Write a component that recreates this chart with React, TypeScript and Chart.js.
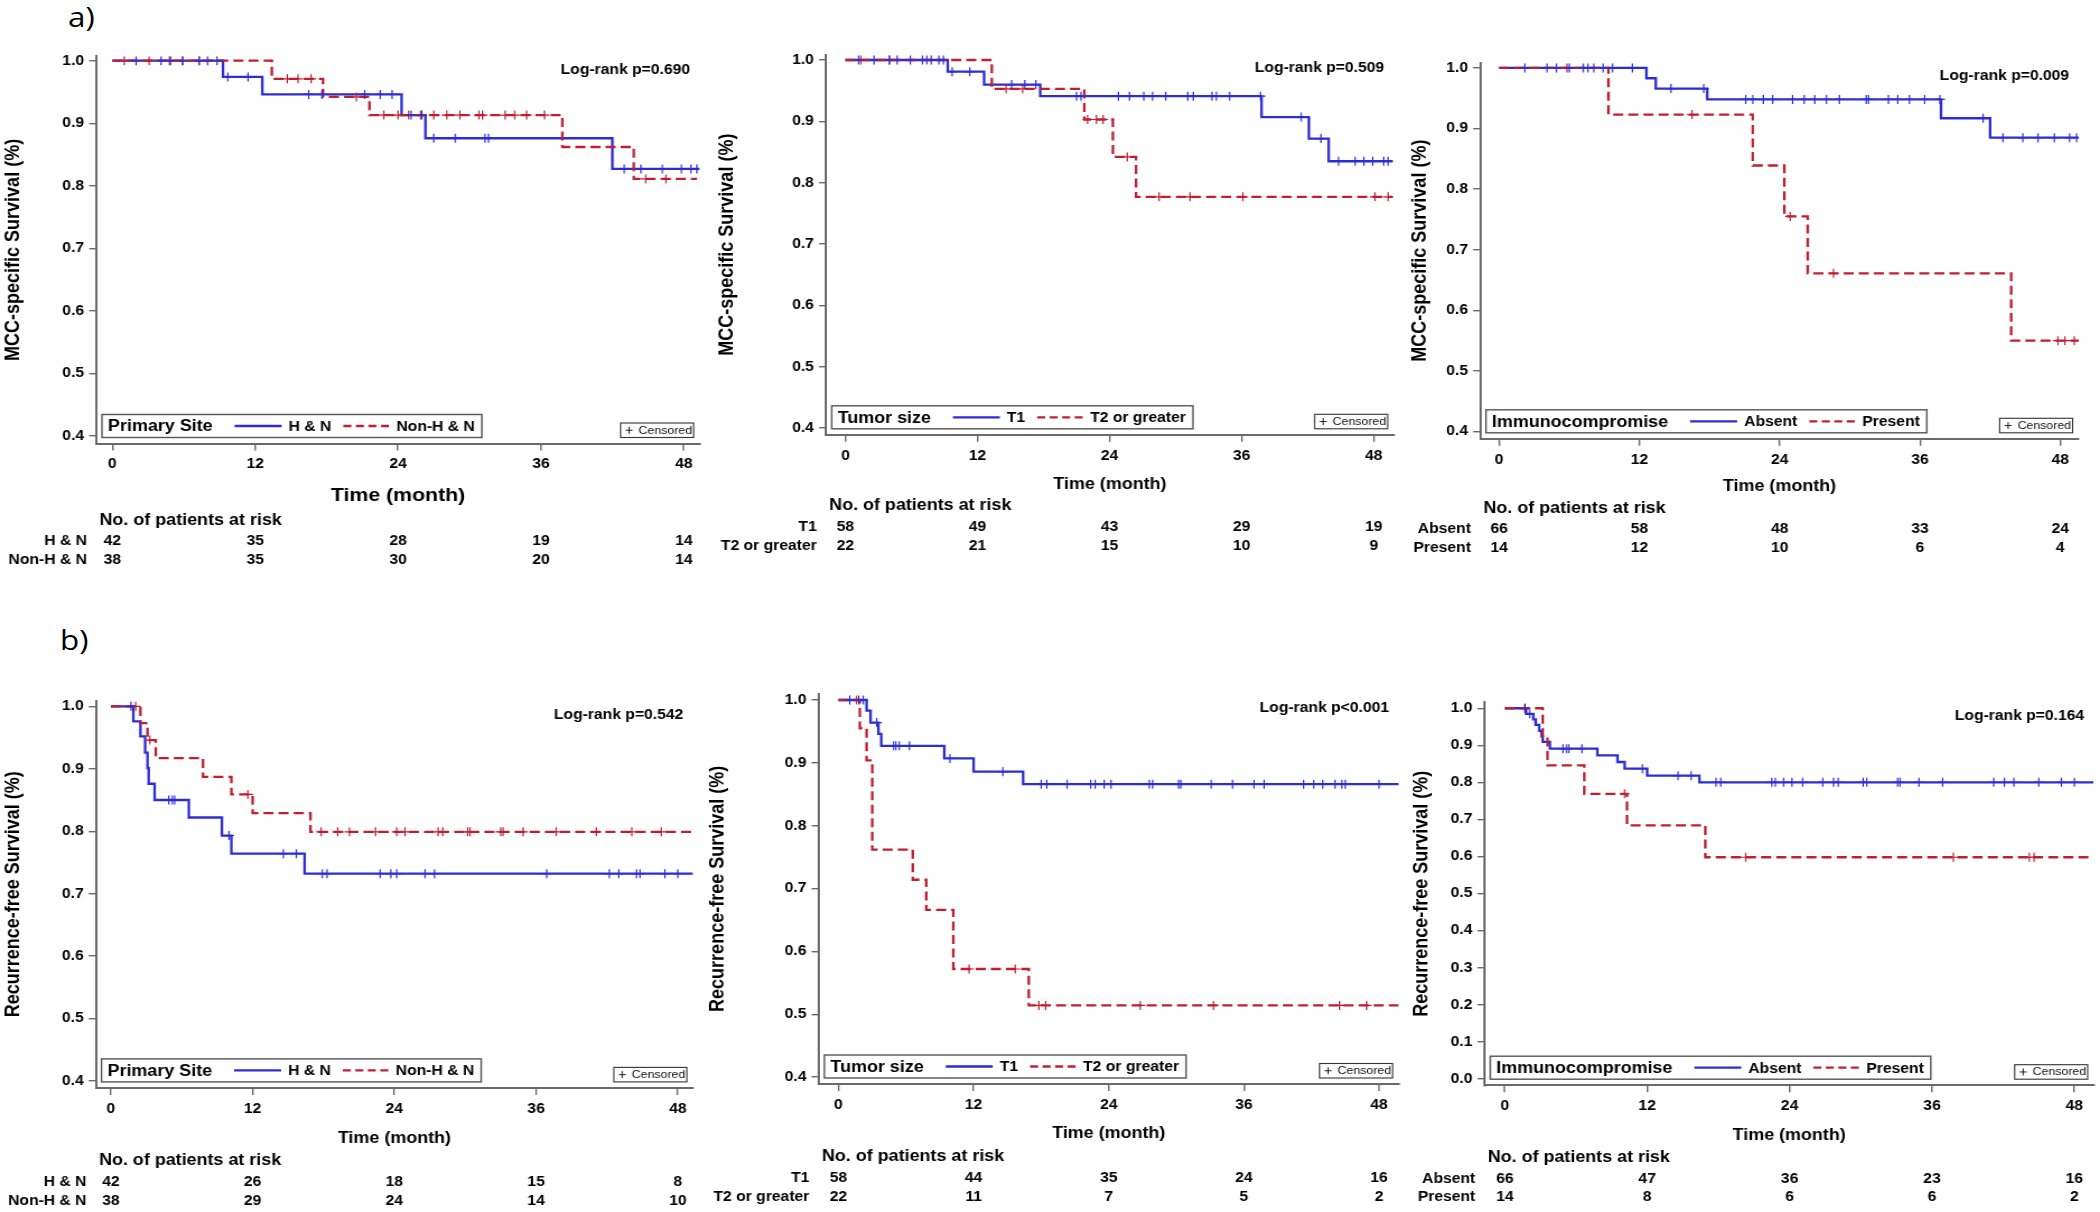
import React, { useEffect, useRef } from 'react';
import { Chart, registerables } from 'chart.js';

Chart.register(...registerables);

const FONT = '"Liberation Sans", Arial, Helvetica, sans-serif';
const BLUE = '#2d2dd6';
const RED = '#c01f30';
const AXIS = '#6a6a6a';
// the reference is slightly wider than tall in its text: draw on a canvas stretched horizontally
const KX = 1.12;

// ---------- tick labels ----------
const timeTicks = [0, 12, 24, 36, 48];
const survTicks = [0.4, 0.5, 0.6, 0.7, 0.8, 0.9, 1.0];
const survTicksFull = [0, 0.1, 0.2, 0.3, 0.4, 0.5, 0.6, 0.7, 0.8, 0.9, 1.0];

// ---------- a) MCC-specific survival: Primary site ----------
const a1HNTimes = [0, 9.3, 12.6, 24.3, 26.3, 42.0, 49.3];
const a1HNSurv = [1, 0.974, 0.946, 0.913, 0.876, 0.827, 0.827];
const a1HNCens = [2.0, 4.1, 4.8, 5.9, 7.3, 8.0, 8.8, 9.7, 11.4, 16.5, 17.6, 21.2, 22.5, 23.5, 25.1, 26.0, 27.0, 28.8, 31.3, 31.6, 43.0, 44.4, 46.2, 47.8, 48.6, 49.1];
const a1NonTimes = [0, 13.4, 17.7, 21.6, 37.8, 43.8, 49.1];
const a1NonSurv = [1, 0.971, 0.942, 0.913, 0.862, 0.811, 0.811];
const a1NonCens = [1.0, 3.1, 4.9, 5.9, 7.3, 14.7, 15.6, 16.7, 20.5, 22.8, 24.0, 24.9, 25.9, 27.0, 28.1, 29.2, 30.8, 31.1, 33.0, 33.8, 34.8, 36.3, 44.8, 46.5];
const a1HNRisk = [42, 35, 28, 19, 14];
const a1NonRisk = [38, 35, 30, 20, 14];

// ---------- a) MCC-specific survival: Tumor size ----------
const a2T1Times = [0, 9.3, 12.6, 17.7, 37.8, 42.1, 43.9, 49.7];
const a2T1Surv = [1, 0.981, 0.96, 0.941, 0.907, 0.872, 0.835, 0.835];
const a2T1Cens = [1.2, 2.6, 4.0, 4.7, 5.9, 7.0, 7.4, 7.8, 8.5, 8.9, 9.7, 11.3, 15.1, 16.3, 17.3, 21.0, 21.4, 24.8, 25.8, 27.1, 27.9, 29.1, 31.1, 31.6, 33.3, 33.7, 34.9, 37.7, 41.4, 43.2, 44.8, 46.3, 47.1, 47.9, 48.9, 49.3];
const a2T2Times = [0, 13.3, 21.7, 24.3, 26.4, 49.7];
const a2T2Surv = [1, 0.953, 0.903, 0.842, 0.777, 0.777];
const a2T2Cens = [1.4, 4.0, 14.6, 16.1, 22.0, 22.8, 23.4, 25.6, 28.5, 31.3, 36.1, 48.1, 49.3];
const a2T1Risk = [58, 49, 43, 29, 19];
const a2T2Risk = [22, 21, 15, 10, 9];

// ---------- a) MCC-specific survival: Immunocompromise ----------
const a3AbsTimes = [0, 12.6, 13.4, 17.8, 37.8, 42.0, 49.6];
const a3AbsSurv = [1, 0.983, 0.966, 0.948, 0.917, 0.885, 0.885];
const a3AbsCens = [2.2, 4.1, 4.9, 6.0, 7.2, 7.6, 8.1, 8.9, 9.7, 11.4, 14.7, 17.5, 21.1, 21.7, 22.6, 23.4, 25.1, 26.1, 27.0, 28.0, 29.1, 31.4, 31.6, 33.3, 34.1, 35.1, 36.4, 37.7, 41.4, 43.1, 44.8, 46.1, 47.5, 48.8, 49.4];
const a3PreTimes = [0, 9.35, 21.7, 24.4, 26.4, 43.8, 49.6];
const a3PreSurv = [1, 0.923, 0.839, 0.755, 0.661, 0.55, 0.55];
const a3PreCens = [5.8, 16.5, 24.9, 28.6, 47.8, 48.4, 49.2];
const a3AbsRisk = [66, 58, 48, 33, 24];
const a3PreRisk = [14, 12, 10, 6, 4];

// ---------- b) Recurrence-free survival: Primary site ----------
const b1HNTimes = [0, 1.9, 2.5, 2.9, 3.1, 3.2, 3.7, 6.6, 9.4, 10.2, 16.4, 49.3];
const b1HNSurv = [1, 0.976, 0.952, 0.926, 0.901, 0.876, 0.85, 0.822, 0.793, 0.764, 0.732, 0.732];
const b1HNCens = [1.7, 4.9, 5.2, 5.4, 10.0, 14.6, 15.7, 17.9, 18.3, 22.8, 23.7, 24.2, 26.6, 27.4, 36.9, 42.2, 43.0, 44.5, 44.8, 46.9, 48.0];
const b1NonTimes = [0, 2.5, 3.1, 3.8, 7.8, 10.2, 12.0, 16.9, 49.3];
const b1NonSurv = [1, 0.973, 0.946, 0.917, 0.887, 0.859, 0.829, 0.799, 0.799];
const b1NonCens = [2.1, 3.3, 11.6, 17.8, 19.2, 20.2, 22.4, 24.2, 24.9, 27.7, 28.1, 30.2, 30.4, 33.0, 33.2, 34.9, 37.7, 41.1, 44.1, 46.6];
const b1HNRisk = [42, 26, 18, 15, 8];
const b1NonRisk = [38, 29, 24, 14, 10];

// ---------- b) Recurrence-free survival: Tumor size ----------
const b2T1Times = [0, 2.5, 2.85, 3.55, 3.8, 9.4, 12.0, 16.4, 49.8];
const b2T1Surv = [1, 0.983, 0.964, 0.946, 0.927, 0.907, 0.886, 0.866, 0.866];
const b2T1Cens = [1.0, 1.8, 2.2, 3.4, 4.9, 5.1, 5.4, 6.3, 9.9, 14.6, 18.0, 18.5, 20.3, 22.4, 22.8, 23.6, 24.2, 27.6, 27.9, 30.2, 30.4, 33.1, 35.0, 36.9, 37.8, 41.3, 42.2, 43.0, 44.1, 44.7, 45.0, 48.0];
const b2T2Times = [0, 1.9, 2.5, 3.0, 6.6, 7.8, 10.2, 16.9, 49.8];
const b2T2Surv = [1, 0.955, 0.904, 0.762, 0.714, 0.666, 0.572, 0.514, 0.514];
const b2T2Cens = [1.6, 11.6, 15.7, 17.8, 18.4, 26.8, 33.3, 44.5, 46.9];
const b2T1Risk = [58, 44, 35, 24, 16];
const b2T2Risk = [22, 11, 7, 5, 2];

// ---------- b) Recurrence-free survival: Immunocompromise ----------
const b3AbsTimes = [0, 1.8, 2.4, 2.6, 2.9, 3.1, 3.2, 3.8, 7.8, 9.5, 10.1, 12.0, 16.4, 49.6];
const b3AbsSurv = [1, 0.985, 0.97, 0.955, 0.939, 0.924, 0.909, 0.891, 0.873, 0.855, 0.837, 0.818, 0.8, 0.8];
const b3AbsCens = [1.7, 2.1, 4.9, 5.2, 5.4, 6.5, 11.6, 14.6, 15.7, 17.8, 18.2, 22.5, 22.8, 23.5, 24.2, 25.1, 26.8, 27.7, 28.1, 30.2, 30.5, 33.1, 33.3, 34.9, 36.9, 41.2, 42.1, 42.9, 45.0, 46.9, 48.0];
const b3PreTimes = [0, 3.2, 3.6, 6.7, 10.3, 16.9, 49.6];
const b3PreSurv = [1, 0.923, 0.846, 0.769, 0.684, 0.598, 0.598];
const b3PreCens = [1.7, 10.1, 20.3, 37.8, 44.2, 44.6];
const b3AbsRisk = [66, 47, 36, 23, 16];
const b3PreRisk = [14, 8, 6, 6, 2];

// ---------- types ----------
type Group = {
  label: string;
  times: number[];
  surv: number[];
  cens: number[];
  risk: number[];
  color: string;
  dashed: boolean;
};

type Panel = {
  key: string;
  cx: number; cy: number; cw: number; ch: number;
  L: number; R: number; T: number; B: number;
  xmin: number; xmax: number; ymin: number; ymax: number;
  yTicks: number[];
  yTitle: string; yTitleX: number;
  xTitleY: number; xTitleSize: number;
  hdr: number; r1: number; r2: number;
  legendTitle: string;
  logrank: string;
  groups: Group[];
};

const g = (label: string, times: number[], surv: number[], cens: number[], risk: number[], color: string, dashed: boolean): Group =>
  ({ label, times, surv, cens, risk, color, dashed });

const MCC = 'MCC-specific Survival (%)';
const RFS = 'Recurrence-free Survival (%)';

const panels: Panel[] = [
  {
    key: 'a1', cx: 0, cy: 30, cw: 706, ch: 545,
    L: 96.4, R: 701.8, T: 56.3, B: 443.5,
    xmin: -1.33, xmax: 49.33, ymin: 0.388, ymax: 1.007, yTicks: survTicks,
    yTitle: MCC, yTitleX: 13.6, xTitleY: 496, xTitleSize: 19,
    hdr: 77, r1: 98.1, r2: 116.3,
    legendTitle: 'Primary Site', logrank: 'Log-rank p=0.690',
    groups: [
      g('H & N', a1HNTimes, a1HNSurv, a1HNCens, a1HNRisk, BLUE, false),
      g('Non-H & N', a1NonTimes, a1NonSurv, a1NonCens, a1NonRisk, RED, true),
    ],
  },
  {
    key: 'a2', cx: 706, cy: 30, cw: 694, ch: 545,
    L: 826.3, R: 1395.5, T: 54.5, B: 434.8,
    xmin: -1.74, xmax: 49.8, ymin: 0.389, ymax: 1.009, yTicks: survTicks,
    yTitle: MCC, yTitleX: 726.8, xTitleY: 485, xTitleSize: 16,
    hdr: 71.2, r1: 92.2, r2: 111.2,
    legendTitle: 'Tumor size', logrank: 'Log-rank p=0.509',
    groups: [
      g('T1', a2T1Times, a2T1Surv, a2T1Cens, a2T1Risk, BLUE, false),
      g('T2 or greater', a2T2Times, a2T2Surv, a2T2Cens, a2T2Risk, RED, true),
    ],
  },
  {
    key: 'a3', cx: 1400, cy: 30, cw: 700, ch: 545,
    L: 1480.4, R: 2078.6, T: 62.5, B: 438.8,
    xmin: -1.6, xmax: 49.57, ymin: 0.388, ymax: 1.009, yTicks: survTicks,
    yTitle: MCC, yTitleX: 1420, xTitleY: 487, xTitleSize: 16,
    hdr: 70.2, r1: 90.8, r2: 109,
    legendTitle: 'Immunocompromise', logrank: 'Log-rank p=0.009',
    groups: [
      g('Absent', a3AbsTimes, a3AbsSurv, a3AbsCens, a3AbsRisk, BLUE, false),
      g('Present', a3PreTimes, a3PreSurv, a3PreCens, a3PreRisk, RED, true),
    ],
  },
  {
    key: 'b1', cx: 0, cy: 660, cw: 700, ch: 552,
    L: 96, R: 692.8, T: 700.7, B: 1087.9,
    xmin: -1.26, xmax: 49.27, ymin: 0.389, ymax: 1.009, yTicks: survTicks,
    yTitle: RFS, yTitleX: 13.6, xTitleY: 1138.6, xTitleSize: 16,
    hdr: 73, r1: 94.5, r2: 113.1,
    legendTitle: 'Primary Site', logrank: 'Log-rank p=0.542',
    groups: [
      g('H & N', b1HNTimes, b1HNSurv, b1HNCens, b1HNRisk, BLUE, false),
      g('Non-H & N', b1NonTimes, b1NonSurv, b1NonCens, b1NonRisk, RED, true),
    ],
  },
  {
    key: 'b2', cx: 700, cy: 660, cw: 705, ch: 552,
    L: 818.75, R: 1401, T: 693.7, B: 1084,
    xmin: -1.74, xmax: 49.74, ymin: 0.389, ymax: 1.01, yTicks: survTicks,
    yTitle: RFS, yTitleX: 717.9, xTitleY: 1134, xTitleSize: 16,
    hdr: 72.2, r1: 94.5, r2: 113.2,
    legendTitle: 'Tumor size', logrank: 'Log-rank p<0.001',
    groups: [
      g('T1', b2T1Times, b2T1Surv, b2T1Cens, b2T1Risk, BLUE, false),
      g('T2 or greater', b2T2Times, b2T2Surv, b2T2Cens, b2T2Risk, RED, true),
    ],
  },
  {
    key: 'b3', cx: 1405, cy: 660, cw: 695, ch: 552,
    L: 1484.8, R: 2096.4, T: 702.3, B: 1085.2,
    xmin: -1.69, xmax: 49.62, ymin: -0.017, ymax: 1.016, yTicks: survTicksFull,
    yTitle: RFS, yTitleX: 1422.3, xTitleY: 1135.5, xTitleSize: 16,
    hdr: 72.2, r1: 93.6, r2: 112,
    legendTitle: 'Immunocompromise', logrank: 'Log-rank p=0.164',
    groups: [
      g('Absent', b3AbsTimes, b3AbsSurv, b3AbsCens, b3AbsRisk, BLUE, false),
      g('Present', b3PreTimes, b3PreSurv, b3PreCens, b3PreRisk, RED, true),
    ],
  },
];

// survival value of a step curve at time t (value at last event time <= t)
function survAt(times: number[], surv: number[], t: number): number {
  let s = surv[0];
  for (let i = 0; i < times.length; i++) if (times[i] <= t) s = surv[i];
  return s;
}

const h = (v: number) => v / KX; // horizontal distance in internal canvas units

function KMChart({ p }: { p: Panel }) {
  const ref = useRef<HTMLCanvasElement | null>(null);
  const innerW = Math.round(p.cw / KX);

  useEffect(() => {
    const canvas = ref.current;
    if (!canvas) return;

    const datasets: any[] = [];
    p.groups.forEach((gr) => {
      datasets.push({
        data: gr.times.map((t, i) => ({ x: t, y: gr.surv[i] })),
        borderColor: gr.color,
        borderWidth: 2.3,
        borderDash: gr.dashed ? [9, 4.5] : [],
        stepped: true,
        pointRadius: 0,
        fill: false,
        order: gr.dashed ? 1 : 2,
      });
      datasets.push({
        data: gr.cens.map((t) => ({ x: t, y: survAt(gr.times, gr.surv, t) })),
        showLine: false,
        pointStyle: 'cross',
        pointRadius: 4.5,
        pointBorderColor: gr.color,
        pointBackgroundColor: gr.color,
        pointBorderWidth: 1.2,
        borderColor: gr.color,
        order: 0,
      });
    });

    const yTitleSize = 18;
    const yLh = yTitleSize * 1.2;
    const xLh = p.xTitleSize * 1.2;
    const Hx = p.xTitleY - p.B + xLh / 2;
    const yW = h(p.L - p.cx);

    const extras = {
      id: 'kmExtras' + p.key,
      afterDraw(chart: any) {
        const ctx = chart.ctx as CanvasRenderingContext2D;
        const ca = chart.chartArea;
        const xs = chart.scales.x;
        ctx.save();

        // Log-rank text
        ctx.font = `bold 14px ${FONT}`;
        ctx.fillStyle = '#000';
        ctx.textAlign = 'right';
        ctx.textBaseline = 'middle';
        ctx.fillText(p.logrank, ca.right - h(9.5), ca.top + 14);

        // legend box
        const boxH = 23;
        const boxBottom = ca.bottom - 6;
        const boxTop = boxBottom - boxH;
        const midY = boxTop + boxH / 2;
        const boxLeft = ca.left + h(5.5);
        ctx.font = `bold 16px ${FONT}`;
        const tW = ctx.measureText(p.legendTitle).width;
        ctx.font = `bold 14px ${FONT}`;
        const l1W = ctx.measureText(p.groups[0].label).width;
        const l2W = ctx.measureText(p.groups[1].label).width;
        const boxW = h(6) + tW + h(22) + h(47) + h(7) + l1W + h(12) + h(46) + h(7) + l2W + h(7);
        ctx.fillStyle = '#fff';
        ctx.fillRect(boxLeft, boxTop, boxW, boxH);
        ctx.strokeStyle = '#555';
        ctx.lineWidth = 1.4;
        ctx.strokeRect(boxLeft, boxTop, boxW, boxH);
        let x = boxLeft + h(6);
        ctx.fillStyle = '#000';
        ctx.textAlign = 'left';
        ctx.font = `bold 16px ${FONT}`;
        ctx.fillText(p.legendTitle, x, midY + 1);
        x += tW + h(22);
        ctx.font = `bold 14px ${FONT}`;
        const drawSample = (gr: Group, sx: number, w: number) => {
          ctx.beginPath();
          ctx.strokeStyle = gr.color;
          ctx.lineWidth = 2.3;
          ctx.setLineDash(gr.dashed ? [h(8), h(4.5)] : []);
          ctx.moveTo(sx, midY);
          ctx.lineTo(sx + w, midY);
          ctx.stroke();
          ctx.setLineDash([]);
        };
        drawSample(p.groups[0], x, h(47));
        x += h(47) + h(7);
        ctx.fillText(p.groups[0].label, x, midY + 1);
        x += l1W + h(12);
        drawSample(p.groups[1], x, h(46));
        x += h(46) + h(7);
        ctx.fillText(p.groups[1].label, x, midY + 1);

        // Censored box
        const cW = h(73), cH = 14.5;
        const cRight = ca.right - h(6);
        const cBottom = ca.bottom - 6;
        const cLeft = cRight - cW;
        const cTop = cBottom - cH;
        ctx.fillStyle = '#fff';
        ctx.fillRect(cLeft, cTop, cW, cH);
        ctx.strokeStyle = '#333';
        ctx.lineWidth = 1.1;
        ctx.strokeRect(cLeft, cTop, cW, cH);
        const cm = cTop + cH / 2;
        ctx.beginPath();
        ctx.strokeStyle = '#222';
        ctx.lineWidth = 1;
        ctx.moveTo(cLeft + h(5), cm);
        ctx.lineTo(cLeft + h(12), cm);
        ctx.moveTo(cLeft + h(8.5), cm - 3.5);
        ctx.lineTo(cLeft + h(8.5), cm + 3.5);
        ctx.stroke();
        ctx.fillStyle = '#111';
        ctx.font = `11px ${FONT}`;
        ctx.textAlign = 'left';
        ctx.fillText('Censored', cLeft + h(18), cm + 0.5);

        // risk table
        ctx.fillStyle = '#000';
        ctx.font = `bold 16px ${FONT}`;
        ctx.textAlign = 'left';
        ctx.fillText('No. of patients at risk', ca.left + h(3), ca.bottom + p.hdr);
        ctx.font = `bold 14px ${FONT}`;
        const rowYs = [ca.bottom + p.r1, ca.bottom + p.r2];
        p.groups.forEach((gr, gi) => {
          ctx.textAlign = 'right';
          ctx.fillText(gr.label, ca.left - h(9.5), rowYs[gi]);
          ctx.textAlign = 'center';
          gr.risk.forEach((n, i) => {
            ctx.fillText(String(n), xs.getPixelForValue(timeTicks[i]), rowYs[gi]);
          });
        });

        ctx.restore();
      },
    };

    const tickFont = { family: FONT, size: 14, weight: 'bold' as const };
    const borderCfg = { display: true, color: AXIS, width: 2 };

    const chart = new Chart(canvas, {
      type: 'line',
      data: { datasets },
      options: {
        animation: false,
        responsive: false,
        maintainAspectRatio: false,
        events: [],
        layout: {
          padding: {
            left: 0,
            right: h(p.cx + p.cw - p.R),
            top: p.T - p.cy,
            bottom: p.cy + p.ch - p.B - Hx,
          },
        },
        plugins: {
          legend: { display: false },
          tooltip: { enabled: false },
          title: { display: false },
        },
        scales: {
          x: {
            type: 'linear',
            min: p.xmin,
            max: p.xmax,
            afterBuildTicks: (s: any) => { s.ticks = timeTicks.map((v) => ({ value: v })); },
            afterFit: (s: any) => { s.height = Hx; },
            ticks: { font: tickFont, color: '#000', padding: 5.5, maxRotation: 0, autoSkip: false, callback: (v: any) => String(v) },
            grid: { drawOnChartArea: false, drawTicks: true, tickLength: 7, color: AXIS, lineWidth: 1.4 },
            border: borderCfg,
            title: { display: true, text: 'Time (month)', color: '#000', font: { family: FONT, size: p.xTitleSize, weight: 'bold' }, padding: 0 },
          },
          y: {
            type: 'linear',
            min: p.ymin,
            max: p.ymax,
            afterBuildTicks: (s: any) => { s.ticks = p.yTicks.map((v) => ({ value: v })); },
            afterFit: (s: any) => { s.width = yW; },
            ticks: { font: tickFont, color: '#000', padding: 4.5, autoSkip: false, callback: (v: any) => Number(v).toFixed(1) },
            grid: { drawOnChartArea: false, drawTicks: true, tickLength: 6.5, color: AXIS, lineWidth: 1.4 },
            border: borderCfg,
            title: {
              display: true, text: p.yTitle, color: '#000',
              font: { family: FONT, size: yTitleSize, weight: 'bold' },
              padding: { top: Math.max(0, h(p.yTitleX - p.cx) - yLh / 2), bottom: 0 },
            },
          },
        },
      } as any,
      plugins: [extras],
    });

    return () => chart.destroy();
  }, [p]);

  return (
    <canvas
      ref={ref}
      width={innerW}
      height={p.ch}
      style={{ position: 'absolute', left: p.cx, top: p.cy, width: p.cw, height: p.ch }}
    />
  );
}

const panelLabel: React.CSSProperties = {
  position: 'absolute',
  fontFamily: '"Open Sans", "Liberation Sans", sans-serif',
  fontSize: 28,
  lineHeight: '36px',
  color: '#000',
  transform: 'scaleX(1.12)',
  transformOrigin: 'left top',
};

export default function App() {
  return (
    <div style={{ position: 'absolute', left: 0, top: 0, width: 2100, height: 1212, background: '#fff', overflow: 'hidden' }}>
      <div style={{ ...panelLabel, left: 68, top: -2 }}>a)</div>
      <div style={{ ...panelLabel, left: 60, top: 621 }}>b)</div>
      {panels.map((p) => <KMChart key={p.key} p={p} />)}
    </div>
  );
}
